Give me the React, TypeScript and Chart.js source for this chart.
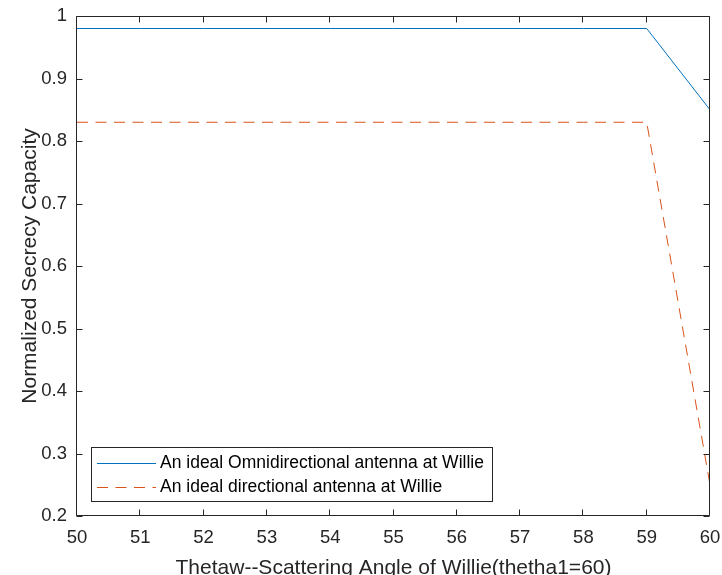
import React, { useEffect, useRef } from "react";
import { Chart, registerables } from "chart.js";

Chart.register(...registerables);

const xValues = [50, 51, 52, 53, 54, 55, 56, 57, 58, 59, 60];
const omniValues = [0.98, 0.98, 0.98, 0.98, 0.98, 0.98, 0.98, 0.98, 0.98, 0.98, 0.85];
const directionalValues = [0.83, 0.83, 0.83, 0.83, 0.83, 0.83, 0.83, 0.83, 0.83, 0.83, 0.25];
const seriesLabels = [
  "An ideal Omnidirectional antenna at Willie",
  "An ideal directional antenna at Willie",
];
const xTitle = "Thetaw--Scattering Angle of Willie(thetha1=60)";
const yTitle = "Normalized Secrecy Capacity";

const FONT = "'Liberation Sans', Arial, Helvetica, sans-serif";
const AXIS_COLOR = "#262626";
const BLUE = "#0072BD";
const ORANGE = "#D95319";
const DASH = [11, 7.5];

const boxPlugin = {
  id: "matlabBox",
  afterDatasetsDraw(chart: any) {
    const { ctx, chartArea } = chart;
    const { left, right, top, bottom } = chartArea;
    const xs = chart.scales.x;
    const ys = chart.scales.y;
    const L = Math.round(left) - 0.5;
    const R = Math.round(right) - 0.5;
    const T = Math.round(top) + 0.5;
    const B = Math.round(bottom) - 0.5;
    const tl = 6;
    ctx.save();
    ctx.strokeStyle = AXIS_COLOR;
    ctx.lineWidth = 1;
    ctx.beginPath();
    ctx.rect(L, T, R - L, B - T);
    ctx.stroke();
    ctx.beginPath();
    xs.ticks.forEach((t: any) => {
      const px = Math.round(xs.getPixelForValue(t.value)) - 0.5;
      ctx.moveTo(px, B);
      ctx.lineTo(px, B - tl);
      ctx.moveTo(px, T);
      ctx.lineTo(px, T + tl);
    });
    ys.ticks.forEach((t: any) => {
      const py = Math.round(ys.getPixelForValue(t.value)) + 0.5;
      ctx.moveTo(L, py);
      ctx.lineTo(L + tl, py);
      ctx.moveTo(R, py);
      ctx.lineTo(R - tl, py);
    });
    ctx.stroke();
    ctx.restore();
  },
  afterDraw(chart: any) {
    const { ctx } = chart;
    const bx = 91.5;
    const by = 447.5;
    const bw = 401;
    const bh = 54;
    ctx.save();
    ctx.fillStyle = "#ffffff";
    ctx.fillRect(bx, by, bw, bh);
    ctx.strokeStyle = AXIS_COLOR;
    ctx.lineWidth = 1;
    ctx.strokeRect(bx, by, bw, bh);
    const rows = [463.5, 487.5];
    chart.data.datasets.forEach((ds: any, i: number) => {
      const y = rows[i];
      ctx.beginPath();
      ctx.strokeStyle = ds.borderColor;
      ctx.lineWidth = 1;
      ctx.setLineDash(ds.borderDash || []);
      ctx.moveTo(97, y);
      ctx.lineTo(156, y);
      ctx.stroke();
      ctx.setLineDash([]);
      ctx.fillStyle = "#000000";
      ctx.font = `17.5px ${FONT}`;
      ctx.textBaseline = "middle";
      ctx.textAlign = "left";
      ctx.fillText(ds.label, 160, y);
    });
    ctx.restore();
  },
};

export default function App() {
  const canvasRef = useRef<HTMLCanvasElement | null>(null);

  useEffect(() => {
    if (!canvasRef.current) return;
    const chart = new Chart(canvasRef.current, {
      type: "line",
      data: {
        datasets: [
          {
            label: seriesLabels[0],
            data: xValues.map((x, i) => ({ x, y: omniValues[i] })),
            borderColor: BLUE,
            borderWidth: 1,
            pointRadius: 0,
            fill: false,
            tension: 0,
          },
          {
            label: seriesLabels[1],
            data: xValues.map((x, i) => ({ x, y: directionalValues[i] })),
            borderColor: ORANGE,
            borderWidth: 1,
            borderDash: DASH,
            pointRadius: 0,
            fill: false,
            tension: 0,
          },
        ],
      },
      options: {
        responsive: false,
        animation: false,
        layout: { padding: { top: 16, right: 12, left: 0, bottom: 0 } },
        plugins: {
          legend: { display: false },
          tooltip: { enabled: false },
        },
        scales: {
          x: {
            type: "linear",
            min: 50,
            max: 60,
            grid: { display: false, drawTicks: false },
            border: { display: false },
            ticks: {
              stepSize: 1,
              padding: 11,
              color: AXIS_COLOR,
              font: { family: FONT, size: 18.5 },
              maxRotation: 0,
              autoSkip: false,
              callback: (v: any) => String(Math.round(Number(v))),
            },
            title: {
              display: true,
              text: xTitle,
              color: AXIS_COLOR,
              font: { family: FONT, size: 21, lineHeight: 1 },
              padding: { top: 0, bottom: -4 },
            },
            afterFit: (s: any) => {
              s.height = 59;
              s.paddingLeft = 0;
              s.paddingRight = 0;
              s.paddingTop = 0;
              s.paddingBottom = 0;
            },
          },
          y: {
            type: "linear",
            min: 0.2,
            max: 1,
            grid: { display: false, drawTicks: false },
            border: { display: false },
            ticks: {
              stepSize: 0.1,
              padding: 10,
              color: AXIS_COLOR,
              font: { family: FONT, size: 18.5 },
              autoSkip: false,
              callback: (v: any) => String(Number(Number(v).toFixed(1))),
            },
            title: {
              display: true,
              text: yTitle,
              color: AXIS_COLOR,
              font: { family: FONT, size: 21, lineHeight: 1 },
              padding: { top: 20, bottom: 0 },
            },
            afterFit: (s: any) => {
              s.width = 77;
              s.paddingLeft = 0;
              s.paddingRight = 0;
              s.paddingTop = 0;
              s.paddingBottom = 0;
            },
          },
        },
      },
      plugins: [boxPlugin],
    });
    return () => chart.destroy();
  }, []);

  return (
    <div style={{ position: "absolute", left: 0, top: 0, width: 722, height: 575, background: "#ffffff" }}>
      <canvas ref={canvasRef} width={722} height={575} style={{ display: "block" }} />
    </div>
  );
}
